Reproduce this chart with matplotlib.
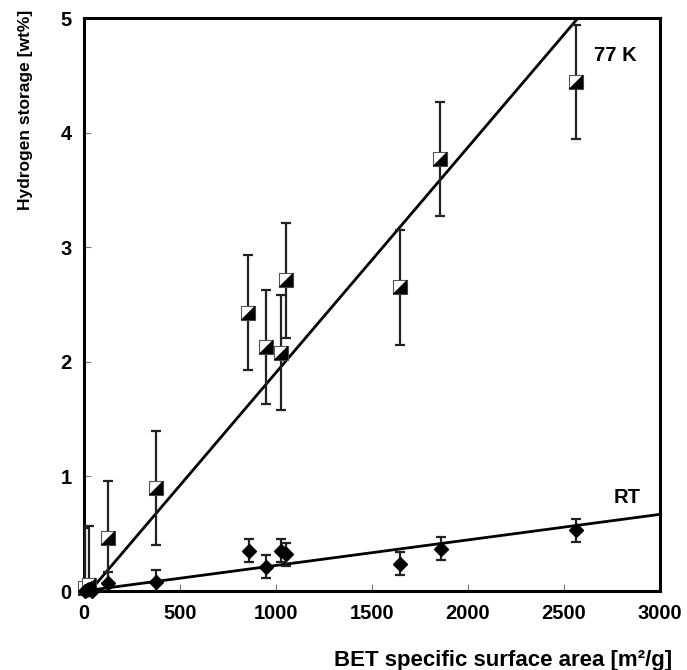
import matplotlib
matplotlib.use("Agg")
import matplotlib.pyplot as plt
import numpy as np
from matplotlib.path import Path

plt.rcParams['font.family'] = ['Liberation Sans', 'DejaVu Sans']

# 77 K hydrogen uptake (wt%) vs BET surface area (m2/g)
x_77k = [5, 28, 125, 375, 856, 948, 1025, 1052, 1646, 1854, 2562]
y_77k = [0.03, 0.05, 0.46, 0.90, 2.43, 2.13, 2.08, 2.71, 2.65, 3.77, 4.44]
err_77k = [0.52, 0.52, 0.50, 0.50, 0.50, 0.50, 0.50, 0.50, 0.50, 0.50, 0.50]

# room temperature uptake
x_rt = [5, 15, 25, 40, 125, 375, 859, 946, 1026, 1052, 1646, 1858, 2562]
y_rt = [0.00, 0.01, 0.02, 0.00, 0.07, 0.08, 0.35, 0.21, 0.35, 0.32, 0.24, 0.37, 0.53]
err_rt = [0.02, 0.02, 0.02, 0.02, 0.10, 0.10, 0.10, 0.10, 0.10, 0.10, 0.10, 0.10, 0.10]

# linear fits (slope, intercept)
fit_77k = (0.001967, -0.061)
fit_rt = (0.000223, 0.0)

x_ticks = [0, 500, 1000, 1500, 2000, 2500, 3000]
y_ticks = [0, 1, 2, 3, 4, 5]

fig = plt.figure(figsize=(6.87, 6.70), dpi=100)
ax = fig.add_axes([0.1223, 0.1179, 0.8384, 0.8552])

# fit lines
xf = np.linspace(0, 3000, 200)
ax.plot(xf, fit_77k[0] * xf + fit_77k[1], color='black', lw=2.0, zorder=2)
ax.plot(xf, fit_rt[0] * xf + fit_rt[1], color='black', lw=2.0, zorder=2)

# error bars
ax.errorbar(x_77k, y_77k, yerr=err_77k, fmt='none', ecolor='#222222',
            elinewidth=1.6, capsize=3.3, capthick=1.6, zorder=3)
ax.errorbar(x_rt, y_rt, yerr=err_rt, fmt='none', ecolor='#222222',
            elinewidth=1.6, capsize=3.3, capthick=1.6, zorder=3)

# half-filled square markers (white upper-left, black lower-right)
square = Path([(-1, -1), (1, -1), (1, 1), (-1, 1), (-1, -1)],
              [Path.MOVETO, Path.LINETO, Path.LINETO, Path.LINETO, Path.CLOSEPOLY])
lower_tri = Path([(-1, -1), (1, -1), (1, 1), (-1, -1)],
                 [Path.MOVETO, Path.LINETO, Path.LINETO, Path.CLOSEPOLY])
ax.plot(x_77k, y_77k, linestyle='none', marker=square, ms=9.5,
        mfc='white', mec='#555555', mew=0.8, zorder=4, clip_on=False)
ax.plot(x_77k, y_77k, linestyle='none', marker=lower_tri, ms=9.5,
        mfc='black', mec='black', mew=0.3, zorder=5, clip_on=False)

# diamonds for room temperature
ax.plot(x_rt, y_rt, linestyle='none', marker='D', ms=7.5,
        mfc='black', mec='black', zorder=5, clip_on=False)

ax.set_xlim(0, 3000)
ax.set_ylim(0, 5)
ax.set_xticks(x_ticks)
ax.set_yticks(y_ticks)
ax.tick_params(direction='in', length=5, width=0.8, color='#777777',
               labelsize=14.5, pad=9)
for lbl in ax.get_xticklabels() + ax.get_yticklabels():
    lbl.set_fontweight('bold')

for s in ax.spines.values():
    s.set_linewidth(2.2)

ax.text(2765, 4.67, '77 K', fontsize=14.5, fontweight='bold', ha='center', va='center')
ax.text(2830, 0.82, 'RT', fontsize=14.5, fontweight='bold', ha='center', va='center')

ax.set_xlabel('BET specific surface area [m²/g]', fontsize=16, fontweight='bold',
              va='bottom')
ax.xaxis.set_label_coords(0.728, -0.14)
ax.set_ylabel('Hydrogen storage [wt%]', fontsize=12.5, fontweight='bold')
ax.yaxis.set_label_coords(-0.0885, 0.84)

fig.savefig('out.png', dpi=100)
